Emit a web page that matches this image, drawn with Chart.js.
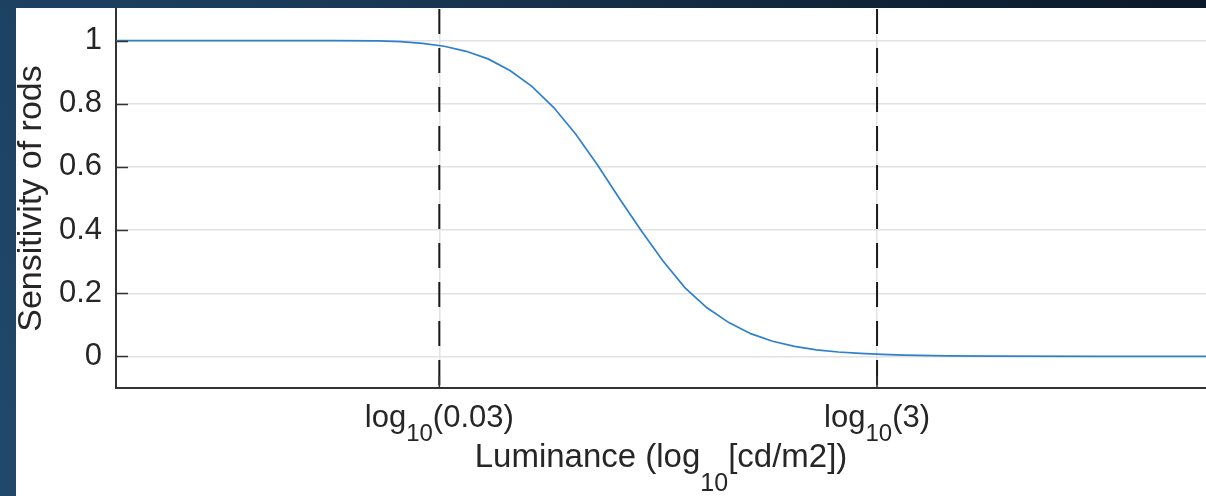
<!DOCTYPE html>
<html>
<head>
<meta charset="utf-8">
<script src="https://cdn.jsdelivr.net/npm/chart.js@4/dist/chart.umd.min.js"></script>
<style>
  html,body{margin:0;padding:0;width:1206px;height:496px;overflow:hidden}
  body{background:linear-gradient(60deg,#21486b 0%,#1a3a58 40%,#0f2236 80%,#0b1a2a 100%)}
  #wrap{position:absolute;left:16px;top:8px;width:1190px;height:488px;background:#fff}
  canvas{display:block}
</style>
</head>
<body>
<div id="wrap"><canvas id="c" width="1190" height="488"></canvas></div>
<script>
(function(){
  function el(id){return document.getElementById(id)}

  // curve: x = log10 luminance, y = rod sensitivity
  const lumLog = [-3.0,-2.5,-2.0,-1.8,-1.7,-1.6,-1.5,-1.4,-1.3,-1.2,-1.1,-1.0,-0.9,-0.8,-0.7,-0.6,-0.5,-0.4,-0.3,-0.2,-0.1,0.0,0.1,0.2,0.3,0.4,0.5,0.6,0.8,1.0,1.5,2.0];
  const sensitivity = [1.000,1.000,1.000,0.999,0.997,0.991,0.982,0.966,0.942,0.905,0.855,0.788,0.704,0.606,0.500,0.398,0.301,0.217,0.154,0.107,0.072,0.048,0.032,0.021,0.014,0.0095,0.0065,0.004,0.002,0.001,0.0,0.0];

  // dashed markers at log10(0.03) and log10(3)
  const refX = [-1.5229, 0.4771];
  const refArg = ['(0.03)', '(3)'];
  const refSpan = [1.1, -0.1];

  const yTicks = [0, 0.2, 0.4, 0.6, 0.8, 1];
  const xRange = [-3, 1.98];
  const yRange = [-0.1, 1.1];

  const yTitle = 'Sensitivity of rods';
  const xTitle = ['Luminance (log', '10', '[cd/m2])'];

  const FONT = '"Liberation Sans", Arial, Helvetica, sans-serif';
  const INK = '#262626';

  // draws "main sub main" with a lowered subscript, centred on cx
  function drawSub(ctx, parts, cx, base, size, subSize, drop){
    const fMain = size + 'px ' + FONT, fSub = subSize + 'px ' + FONT;
    ctx.font = fMain; const w0 = ctx.measureText(parts[0]).width, w2 = ctx.measureText(parts[2]).width;
    ctx.font = fSub; const w1 = ctx.measureText(parts[1]).width;
    let x = cx - (w0+w1+w2)/2;
    ctx.textAlign = 'left'; ctx.textBaseline = 'alphabetic'; ctx.fillStyle = INK;
    ctx.font = fMain; ctx.fillText(parts[0], x, base); x += w0;
    ctx.font = fSub; ctx.fillText(parts[1], x, base + drop); x += w1;
    ctx.font = fMain; ctx.fillText(parts[2], x, base);
  }

  const decor = {
    id: 'decor',
    afterDraw(chart){
      const ctx = chart.ctx, a = chart.chartArea;
      const xs = chart.scales.x, ys = chart.scales.y;
      ctx.save();
      // inward tick marks
      ctx.strokeStyle = '#333'; ctx.lineWidth = 1.5;
      for(const v of yTicks){ const p = Math.round(ys.getPixelForValue(v)) + 0.5; ctx.beginPath(); ctx.moveTo(a.left, p); ctx.lineTo(a.left+12, p); ctx.stroke(); }
      for(const v of refX){ const p = xs.getPixelForValue(v); ctx.beginPath(); ctx.moveTo(p, a.bottom); ctx.lineTo(p, a.bottom-12); ctx.stroke(); }
      // x tick labels with subscript
      refX.forEach((v,i)=> drawSub(ctx, ['log','10',refArg[i]], xs.getPixelForValue(v), 419, 31, 24, 14));
      // x title
      drawSub(ctx, xTitle, (a.left+a.right)/2, 459, 33, 25, 24);
      ctx.restore();
    }
  };

  const datasets = [{
    data: lumLog.map((x,i)=>({x:x, y:sensitivity[i]})),
    borderColor:'#2f80cc', borderWidth:1.7, pointRadius:0, showLine:true, order:2
  }];
  refX.forEach(x=> datasets.push({
    data: refSpan.map(y=>({x:x, y:y})),
    borderColor:'#1a1a1a', borderWidth:2, borderDash:[25,14], pointRadius:0, showLine:true, order:1
  }));

  new Chart(el('c').getContext('2d'), {
    type:'scatter',
    data:{ datasets: datasets },
    options:{
      responsive:false, animation:false, devicePixelRatio:1,
      layout:{ padding:{ top:1, right:0, bottom:0, left:0 } },
      plugins:{ legend:{display:false}, tooltip:{enabled:false} },
      scales:{
        x:{
          type:'linear', min:xRange[0], max:xRange[1],
          afterBuildTicks: s=>{ s.ticks = refX.map(v=>({value:v})); },
          afterFit: s=>{ s.height = 108; s.paddingLeft = 0; s.paddingRight = 0; },
          ticks:{ display:false },
          grid:{ color:'#e2e2e2', lineWidth:1.5, drawTicks:false },
          border:{ color:'#333', width:2 }
        },
        y:{
          type:'linear', min:yRange[0], max:yRange[1],
          afterBuildTicks: s=>{ s.ticks = yTicks.map(v=>({value:v})); },
          afterFit: s=>{ s.width = 100; s.paddingTop = 0; s.paddingBottom = 0; },
          ticks:{ padding:14, color:INK, font:{ family:FONT, size:31 }, callback: v=> String(v) },
          grid:{ color:'#e2e2e2', lineWidth:1.5, drawTicks:false },
          border:{ color:'#333', width:2 },
          title:{ display:true, text:yTitle, color:INK, padding:0, font:{ family:FONT, size:34, lineHeight:0.9 } }
        }
      }
    },
    plugins:[decor]
  });
})();
</script>
</body>
</html>
